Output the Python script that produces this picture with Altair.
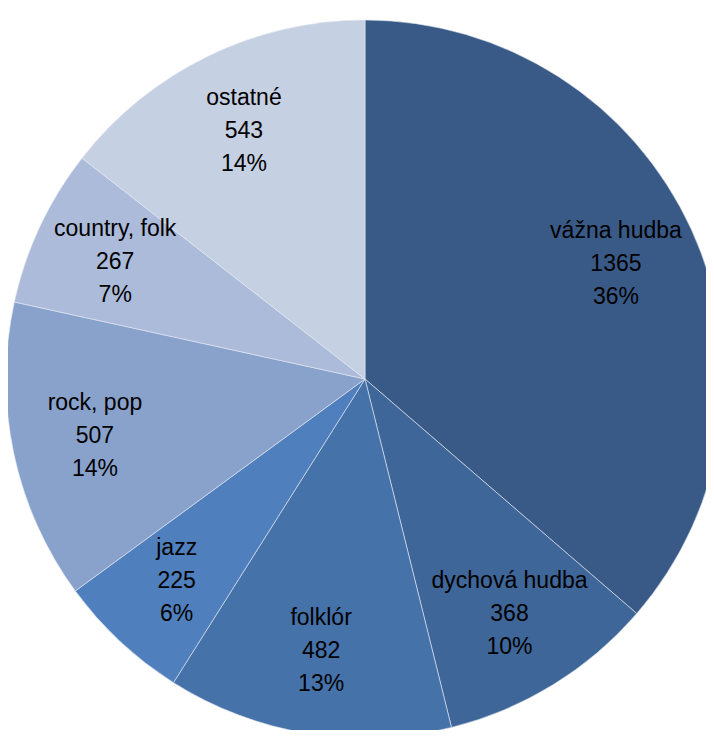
import altair as alt
import pandas as pd

categories = ["vážna hudba", "dychová hudba", "folklór", "jazz", "rock, pop", "country, folk", "ostatné"]
values = [1365, 368, 482, 225, 507, 267, 543]
percents = ["36%", "10%", "13%", "6%", "14%", "7%", "14%"]
colors = ["#395A87", "#3F6698", "#4672AA", "#4F80BD", "#89A2CC", "#ACBBD9", "#C5D0E3"]

df = pd.DataFrame({
    "kategoria": categories,
    "hodnota": values,
    "podiel": percents,
    "poradie": list(range(len(categories))),
})

CX, CY, R = 357, 371, 359

base = alt.Chart(df).encode(
    theta=alt.Theta("hodnota:Q", stack=True),
    order=alt.Order("poradie:Q"),
)

arcs = base.mark_arc(outerRadius=R, stroke="#E4E9F2", strokeWidth=0.6).encode(
    x=alt.value(CX),
    y=alt.value(CY),
    color=alt.Color("kategoria:N", scale=alt.Scale(domain=categories, range=colors), legend=None),
)

labels = base.transform_calculate(
    lbl="[datum.kategoria, '' + datum.hodnota, datum.podiel]"
).mark_text(
    radius=276, font="Liberation Sans", fontSize=23, color="black",
    align="center", baseline="middle", lineHeight=33, dy=-33,
).encode(
    x=alt.value(CX),
    y=alt.value(CY),
    text="lbl:N",
)

chart = alt.layer(arcs, labels).properties(
    width=698, height=722, padding=0, autosize="none",
).configure_view(stroke=None)

chart.save("out.html", embed_options={"renderer": "svg", "actions": False})
